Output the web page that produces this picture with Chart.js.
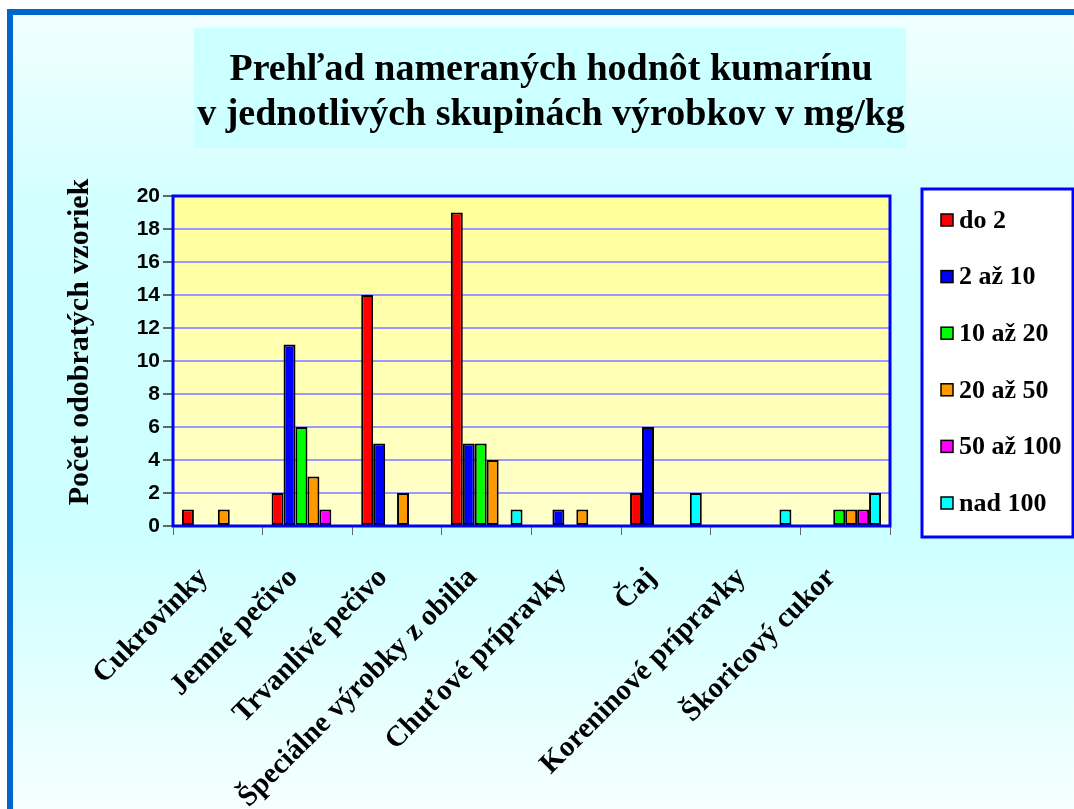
<!DOCTYPE html>
<html>
<head>
<meta charset="utf-8">
<script src="https://cdn.jsdelivr.net/npm/chart.js@4"></script>
<style>
  html, body { margin: 0; padding: 0; background: #fff; }
</style>
</head>
<body>
<canvas id="kumarinChart" width="1074" height="809"></canvas>
<script>
const categories = [
  'Cukrovinky',
  'Jemné pečivo',
  'Trvanlivé pečivo',
  'Špeciálne výrobky z obilia',
  'Chuťové prípravky',
  'Čaj',
  'Koreninové prípravky',
  'Škoricový cukor'
];
const seriesNames = ['do 2', '2 až 10', '10 až 20', '20 až 50', '50 až 100', 'nad 100'];
const do2 = [1, 2, 14, 19, 0, 2, 0, 0];
const od2do10 = [0, 11, 5, 5, 1, 6, 0, 0];
const od10do20 = [0, 6, 0, 5, 0, 0, 0, 1];
const od20do50 = [1, 3, 2, 4, 1, 0, 0, 1];
const od50do100 = [0, 1, 0, 0, 0, 0, 0, 1];
const nad100 = [0, 0, 0, 1, 0, 2, 1, 2];
const yTicks = [0, 2, 4, 6, 8, 10, 12, 14, 16, 18, 20];
const titleLines = ['Prehľad nameraných hodnôt kumarínu', 'v jednotlivých skupinách výrobkov v mg/kg'];
const yTitle = 'Počet odobratých vzoriek';

const seriesColors = ['#ff0000', '#0000ff', '#00ff00', '#ff9900', '#ff00ff', '#00ffff'];
const seriesValues = [do2, od2do10, od10do20, od20do50, od50do100, nad100];

const serif = '"Liberation Serif", "Times New Roman", serif';

// page background, frame, title box, plot background
const backdrop = {
  id: 'backdrop',
  beforeDraw(chart) {
    const { ctx, chartArea: a } = chart;
    ctx.save();
    ctx.fillStyle = '#ffffff';
    ctx.fillRect(0, 0, chart.width, chart.height);

    const g = ctx.createLinearGradient(0, 12, 0, chart.height);
    g.addColorStop(0, '#f2ffff');
    g.addColorStop(0.25, '#d2ffff');
    g.addColorStop(0.65, '#ccffff');
    g.addColorStop(1, '#f6ffff');
    ctx.fillStyle = g;
    ctx.fillRect(10, 12, chart.width - 10, chart.height - 12);

    // outer frame (top + left)
    ctx.fillStyle = '#0066cc';
    ctx.fillRect(7, 9, chart.width - 7, 6);
    ctx.fillRect(7, 9, 6, chart.height - 9);

    // title box
    ctx.fillStyle = '#ccffff';
    ctx.fillRect(194, 28, 712, 120);
    ctx.fillStyle = '#000';
    ctx.font = 'bold 38px ' + serif;
    ctx.textAlign = 'center';
    ctx.textBaseline = 'alphabetic';
    ctx.fillText(titleLines[0], 551, 80);
    ctx.fillText(titleLines[1], 551, 125);

    // plot area
    const pg = ctx.createLinearGradient(0, a.top, 0, a.bottom);
    pg.addColorStop(0, '#ffff99');
    pg.addColorStop(1, '#ffffcc');
    ctx.fillStyle = pg;
    ctx.fillRect(a.left, a.top, a.right - a.left, a.bottom - a.top);
    ctx.restore();
  },
  afterDraw(chart) {
    const { ctx, chartArea: a } = chart;
    ctx.save();
    // plot border
    ctx.strokeStyle = '#0000ff';
    ctx.lineWidth = 3;
    ctx.strokeRect(a.left, a.top, a.right - a.left, a.bottom - a.top);

    // y axis title
    ctx.fillStyle = '#000';
    ctx.font = 'bold 30px ' + serif;
    ctx.textAlign = 'center';
    ctx.textBaseline = 'middle';
    ctx.translate(80, 342);
    ctx.rotate(-Math.PI / 2);
    ctx.fillText(yTitle, 0, 0);
    ctx.restore();

    // legend box
    ctx.save();
    ctx.fillStyle = '#ffffff';
    ctx.fillRect(922, 189, 151, 348);
    ctx.strokeStyle = '#0000ff';
    ctx.lineWidth = 3;
    ctx.strokeRect(922, 189, 151, 348);
    ctx.font = 'bold 26px ' + serif;
    ctx.textAlign = 'left';
    ctx.textBaseline = 'middle';
    chart.data.datasets.forEach((ds, i) => {
      const cy = 220 + i * 56.6;
      ctx.fillStyle = ds.backgroundColor;
      ctx.fillRect(941, cy - 6, 12, 12);
      ctx.strokeStyle = '#000';
      ctx.lineWidth = 1.5;
      ctx.strokeRect(941, cy - 6, 12, 12);
      ctx.fillStyle = '#000';
      ctx.fillText(ds.label, 959, cy + 1);
    });
    ctx.restore();
  }
};

const ctx = document.getElementById('kumarinChart').getContext('2d');
new Chart(ctx, {
  type: 'bar',
  data: {
    labels: categories,
    datasets: seriesNames.map((name, i) => ({
      label: name,
      data: seriesValues[i],
      backgroundColor: seriesColors[i],
      borderColor: '#000000',
      borderWidth: 2,
      borderSkipped: false,
      categoryPercentage: 0.8,
      barPercentage: 1.0
    }))
  },
  options: {
    responsive: false,
    animation: false,
    layout: { padding: { top: 196, right: 184, bottom: 0, left: 100 } },
    plugins: {
      legend: { display: false },
      title: { display: false },
      tooltip: { enabled: false }
    },
    scales: {
      x: {
        afterFit: (scale) => { scale.height = 283; },
        border: { display: false },
        grid: {
          offset: true,
          drawOnChartArea: false,
          tickLength: 9,
          tickColor: '#666666'
        },
        ticks: {
          minRotation: 45,
          maxRotation: 45,
          padding: 26,
          labelOffset: -14,
          color: '#000',
          font: { family: serif, size: 29, weight: 'bold' }
        }
      },
      y: {
        min: 0,
        max: 20,
        afterFit: (scale) => { scale.width = 73; },
        afterBuildTicks: (scale) => { scale.ticks = yTicks.map((v) => ({ value: v })); },
        border: { display: false },
        grid: {
          color: '#9999ff',
          lineWidth: 2,
          tickLength: 10,
          tickColor: '#666666'
        },
        ticks: {
          padding: 3,
          color: '#000',
          font: { family: '"Liberation Sans", Arial, sans-serif', size: 21, weight: 'bold' }
        }
      }
    }
  },
  plugins: [backdrop]
});
</script>
</body>
</html>
